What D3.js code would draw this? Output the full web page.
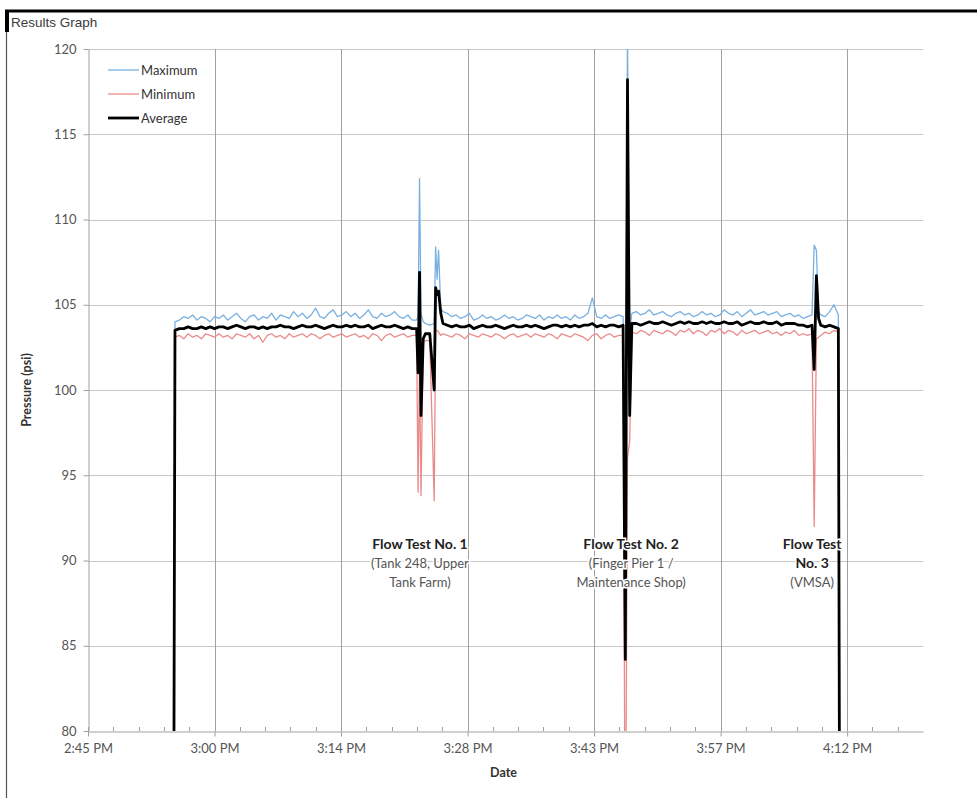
<!DOCTYPE html>
<html>
<head>
<meta charset="utf-8">
<script src="https://cdn.jsdelivr.net/npm/d3@7"></script>
<style>
  body { margin: 0; background: #fff; }
  svg text { font-family: Lato, "Open Sans", sans-serif; }
</style>
</head>
<body>
<svg id="chart" width="977" height="798"></svg>
<script>
// Samples every 30 s starting at 2:55:00 PM.
// An inner list holds several quick readings taken inside that 30 s slot.
const sampleStart = "14:55:00";
const sampleStepSec = 30;

const average = [
  0,
  103.5, 103.6, 103.6, 103.7, 103.6, 103.6, 103.7, 103.6, 103.7, 103.6,
  103.7, 103.7, 103.6, 103.7, 103.8, 103.7, 103.6, 103.7, 103.7, 103.6,
  103.7, 103.6, 103.7, 103.7, 103.8, 103.7, 103.7, 103.6, 103.7, 103.8,
  103.7, 103.7, 103.8, 103.7, 103.6, 103.7, 103.8, 103.7, 103.7, 103.8,
  103.7, 103.8, 103.7, 103.7, 103.8, 103.6, 103.7, 103.8, 103.7, 103.7,
  103.8, 103.7, 103.6, 103.7, 103.6,
  [103.6, 101.0, 106.9], [98.5, 103.0], 103.3, 103.3, [100.0, 106.0, 105.6], [105.8, 104.5], 103.9,
  103.8, 103.7, 103.8, 103.7, 103.7, 103.8, 103.6, 103.7, 103.8, 103.7,
  103.7, 103.8, 103.7, 103.6, 103.7, 103.8, 103.7, 103.7, 103.8, 103.7,
  103.8, 103.7, 103.6, 103.7, 103.8, 103.8, 103.7, 103.8, 103.7, 103.8,
  103.7, 103.8, 103.8, 103.9, 103.7, 103.8, 103.7, 103.8, 103.8, 103.7,
  [103.8, 84.2], [118.2, 98.5],
  103.9, 103.9, 103.8, 103.9, 104.0, 103.9, 103.9, 104.0, 103.9, 103.8, 103.9,
  104.0, 103.9, 104.0, 103.9, 103.9, 104.0, 103.9, 104.0, 103.9, 103.9,
  104.0, 103.9, 103.9, 104.0, 103.8, 103.9, 104.0, 103.9, 103.9, 104.0,
  103.9, 103.9, 104.0, 103.8, 103.9, 103.9, 103.9, 103.8, 103.8, 103.7,
  [103.8, 101.2], [106.7, 104.2],
  103.8, 103.7, 103.8, 103.7, 103.6,
  0
];

const maximum = [
  0,
  104.0, 104.1, 104.3, 104.2, 104.4, 104.1, 104.3, 104.2, 104.0, 104.3,
  104.2, 104.4, 104.1, 104.3, 104.5, 104.2, 104.0, 104.3, 104.4, 104.1,
  104.3, 104.2, 104.5, 104.1, 104.4, 104.3, 104.2, 104.6, 104.3, 104.5,
  104.2, 104.4, 104.8, 104.3, 104.2, 104.5, 104.7, 104.3, 104.4, 104.6,
  104.3, 104.5, 104.2, 104.4, 104.7, 104.3, 104.2, 104.5, 104.3, 104.4,
  104.6, 104.3, 104.2, 104.4, 104.1,
  [104.1, 104.3, 112.4], [104.5, 104.0], 103.9, 103.8, [103.9, 108.4, 106.5], [108.2, 104.8], 104.6,
  104.5, 104.3, 104.4, 104.2, 104.3, 104.5, 104.1, 104.2, 104.4, 104.2,
  104.3, 104.1, 104.2, 104.4, 104.2, 104.3, 104.1, 104.2, 104.4, 104.3,
  104.2, 104.4, 104.1, 104.3, 104.2, 104.4, 104.2, 104.3, 104.1, 104.4,
  104.2, 104.3, 104.5, 105.4, 104.3, 104.2, 104.4, 104.2, 104.3, 104.4,
  [104.3, 95.0], [121.0, 103.5],
  104.5, 104.6, 104.4, 104.5, 104.7, 104.4, 104.5, 104.6, 104.4, 104.3, 104.5,
  104.6, 104.4, 104.5, 104.3, 104.4, 104.6, 104.4, 104.5, 104.3, 104.4,
  104.7, 104.5, 104.4, 104.6, 104.3, 104.5, 104.7, 104.4, 104.5, 104.6,
  104.4, 104.5, 104.6, 104.3, 104.4, 104.5, 104.3, 104.4, 104.2, 104.3,
  [104.4, 108.5], [108.2, 104.6],
  104.4, 104.3, 104.6, 105.0, 104.4,
  0
];

const minimum = [
  0,
  103.1, 103.2, 103.0, 103.3, 103.1, 103.2, 103.0, 103.3, 103.2, 103.1,
  103.3, 103.1, 103.2, 103.0, 103.3, 103.2, 103.1, 103.3, 103.0, 103.2,
  102.8, 103.2, 103.3, 103.1, 103.2, 103.0, 103.3, 103.1, 103.2, 103.3,
  103.1, 103.3, 103.2, 103.0, 103.2, 103.3, 103.1, 103.2, 103.3, 103.1,
  103.2, 103.3, 103.1, 103.2, 103.0, 103.3, 103.2, 102.9, 103.2, 103.3,
  103.1, 103.2, 103.3, 103.1, 103.2,
  [103.2, 94.0, 101.5], [93.8, 102.8], 102.9, 102.9, [93.5, 103.5, 103.5], [103.4, 103.2], 103.3,
  103.2, 103.1, 103.3, 103.2, 103.0, 103.3, 103.2, 103.1, 103.3, 103.2,
  103.1, 103.3, 103.2, 103.0, 103.2, 103.3, 103.1, 103.2, 103.3, 103.1,
  103.3, 103.2, 103.1, 103.3, 103.2, 103.0, 103.3, 103.2, 103.1, 103.3,
  103.2, 103.1, 102.9, 103.2, 103.3, 103.0, 103.2, 103.3, 103.1, 103.2,
  [103.2, 70.0], [96.0, 97.0],
  103.4, 103.3, 103.5, 103.4, 103.2, 103.5, 103.4, 103.3, 103.5, 103.4, 103.2,
  103.5, 103.4, 103.6, 103.3, 103.5, 103.4, 103.2, 103.5, 103.4, 103.6,
  103.3, 103.5, 103.4, 103.2, 103.5, 103.3, 103.4, 103.5, 103.3, 103.4,
  103.5, 103.3, 103.4, 103.2, 103.4, 103.3, 103.5, 103.2, 103.3, 103.2,
  [103.3, 92.0], [103.0, 103.1],
  103.2, 103.4, 103.3, 103.5, 103.4,
  0
];

const xDomain = ["14:45:36", "16:20:38"];
const xTickTimes = ["14:45:36", "15:00:00", "15:14:24", "15:28:48", "15:43:12", "15:57:36", "16:12:00"];
const xTickLabels = ["2:45 PM", "3:00 PM", "3:14 PM", "3:28 PM", "3:43 PM", "3:57 PM", "4:12 PM"];
const yTicks = [80, 85, 90, 95, 100, 105, 110, 115, 120];

const seriesNames = ["Maximum", "Minimum", "Average"];

const noteTimes = ["15:23:23", "15:47:25", "16:08:01"];
const notePressure = 90.7;
const noteTitles = [["Flow Test No. 1"], ["Flow Test No. 2"], ["Flow Test", "No. 3"]];
const noteSubs = [["(Tank 248, Upper", "Tank Farm)"], ["(Finger Pier 1 /", "Maintenance Shop)"], ["(VMSA)"]];

// ---------------------------------------------------------------
const parseT = d3.timeParse("%H:%M:%S");
const t0 = parseT(sampleStart);

// spread each slot's readings across its 30 s
const toPoints = values => {
  const pts = [];
  values.forEach((v, i) => {
    const sub = Array.isArray(v) ? v : [v];
    sub.forEach((val, j) => pts.push({
      t: new Date(t0.getTime() + (i + j / sub.length) * sampleStepSec * 1000),
      v: val
    }));
  });
  return pts;
};

const svg = d3.select("#chart");
const W = 977, H = 798;
const margin = { left: 88, right: 54, top: 49, bottom: 67 };
const plotW = W - margin.left - margin.right;
const plotH = H - margin.top - margin.bottom;

const x = d3.scaleTime().domain(xDomain.map(parseT)).range([margin.left, margin.left + plotW]);
const y = d3.scaleLinear().domain([80, 120]).range([margin.top + plotH, margin.top]);

// frame
svg.append("line").attr("x1", 5).attr("x2", W).attr("y1", 11).attr("y2", 11)
  .attr("stroke", "#000").attr("stroke-width", 3);
svg.append("line").attr("x1", 6.5).attr("x2", 6.5).attr("y1", 10).attr("y2", H)
  .attr("stroke", "#555").attr("stroke-width", 1.2);
svg.append("rect").attr("x", 5).attr("y", 10).attr("width", 4).attr("height", 22).attr("fill", "#000");
svg.append("text").attr("x", 11).attr("y", 27)
  .style("font-family", "'Liberation Sans', Arial, sans-serif")
  .attr("font-size", 13.5).attr("fill", "#3a3a3a").text("Results Graph");

// gridlines
svg.append("g").selectAll("line").data(yTicks.slice(1)).join("line")
  .attr("x1", margin.left).attr("x2", margin.left + plotW)
  .attr("y1", d => Math.round(y(d)) + 0.5).attr("y2", d => Math.round(y(d)) + 0.5)
  .attr("stroke", "#c8c8c8");
svg.append("g").selectAll("line").data(xTickTimes.slice(1).map(parseT)).join("line")
  .attr("x1", d => Math.round(x(d)) + 0.5).attr("x2", d => Math.round(x(d)) + 0.5)
  .attr("y1", margin.top).attr("y2", margin.top + plotH)
  .attr("stroke", "#a0a0a0");

// minor x ticks
const minorTicks = [];
const xd = x.domain();
for (let ms = xd[0].getTime(); ms <= xd[1].getTime(); ms += 172800) minorTicks.push(new Date(ms));
svg.append("g").selectAll("line").data(minorTicks).join("line")
  .attr("x1", d => Math.round(x(d)) + 0.5).attr("x2", d => Math.round(x(d)) + 0.5)
  .attr("y1", margin.top + plotH - 4).attr("y2", margin.top + plotH)
  .attr("stroke", "#a0a0a0");

// axes
const xAxis = d3.axisBottom(x)
  .tickValues(xTickTimes.map(parseT))
  .tickFormat((d, i) => xTickLabels[i])
  .tickSize(5).tickSizeOuter(0);
const gx = svg.append("g").attr("transform", `translate(0,${margin.top + plotH + 0.5})`).call(xAxis);
gx.select(".domain").attr("stroke", "#a0a0a0");
gx.selectAll(".tick line").attr("stroke", "#a0a0a0");
gx.selectAll(".tick text").attr("fill", "#555").attr("font-size", 13).attr("dy", "1.05em");

const yAxis = d3.axisLeft(y).tickValues(yTicks).tickSize(5).tickSizeOuter(0).tickPadding(7);
const gy = svg.append("g").attr("transform", `translate(${margin.left + 0.5},0)`).call(yAxis);
gy.select(".domain").attr("stroke", "#a0a0a0");
gy.selectAll(".tick line").attr("stroke", "#a0a0a0");
gy.selectAll(".tick text").attr("fill", "#555").attr("font-size", 13);

svg.append("text").attr("x", margin.left + plotW / 2 - 2).attr("y", 777)
  .attr("text-anchor", "middle").attr("font-size", 12.5).attr("font-weight", "bold")
  .attr("fill", "#333").text("Date");
svg.append("text").attr("transform", `translate(31,${margin.top + plotH / 2}) rotate(-90)`)
  .attr("text-anchor", "middle").attr("font-size", 12.5).attr("font-weight", "bold")
  .attr("fill", "#333").text("Pressure (psi)");

// series
svg.append("clipPath").attr("id", "plotClip").append("rect")
  .attr("x", margin.left).attr("y", margin.top).attr("width", plotW).attr("height", plotH);

const line = d3.line().x(d => x(d.t)).y(d => y(d.v));
const series = [
  { name: seriesNames[0], values: maximum, color: "#79b0e0", width: 1.3 },
  { name: seriesNames[1], values: minimum, color: "#ea8a8a", width: 1.3 },
  { name: seriesNames[2], values: average, color: "#000", width: 2.8 }
];
const gs = svg.append("g").attr("clip-path", "url(#plotClip)");
series.forEach(s => {
  gs.append("path").datum(toPoints(s.values)).attr("d", line)
    .attr("fill", "none").attr("stroke", s.color).attr("stroke-width", s.width)
    .attr("stroke-linejoin", "round");
});

// legend
const lg = svg.append("g").attr("transform", "translate(108,70)");
series.forEach((s, i) => {
  const row = lg.append("g").attr("transform", `translate(0,${i * 24})`);
  row.append("line").attr("x1", 0).attr("x2", 31).attr("stroke", s.color).attr("stroke-width", s.width);
  row.append("text").attr("x", 33).attr("dy", "0.35em").attr("font-size", 13)
    .attr("fill", "#333").text(s.name);
});

// flow test notes
noteTimes.forEach((t, k) => {
  const cx = x(parseT(t));
  let yy = y(notePressure);
  const g = svg.append("g").attr("text-anchor", "middle")
    .attr("stroke", "#fff").attr("stroke-width", 3).attr("paint-order", "stroke");
  noteTitles[k].forEach(l => {
    g.append("text").attr("x", cx).attr("y", yy).attr("font-size", 14)
      .attr("font-weight", "bold").attr("fill", "#222").text(l);
    yy += 19;
  });
  noteSubs[k].forEach(l => {
    g.append("text").attr("x", cx).attr("y", yy).attr("font-size", 13)
      .attr("fill", "#555").text(l);
    yy += 19;
  });
});
</script>
</body>
</html>
